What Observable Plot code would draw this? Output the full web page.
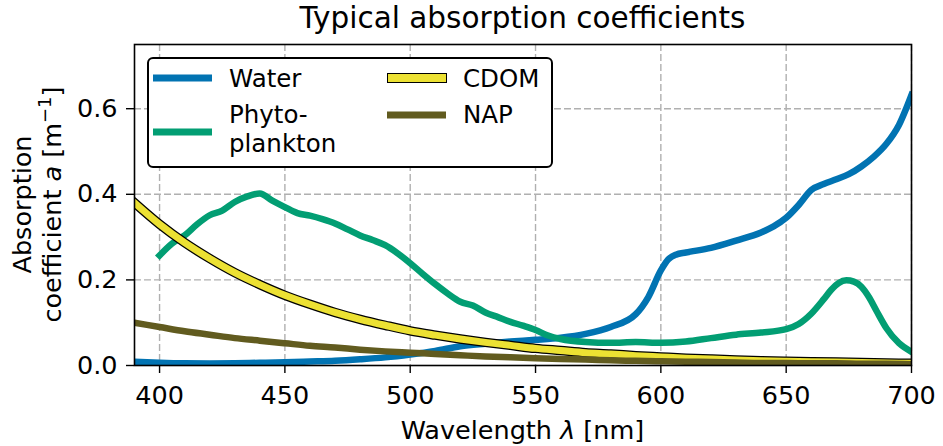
<!DOCTYPE html>
<html><head><meta charset="utf-8">
<script src="https://cdn.jsdelivr.net/npm/d3@7"></script>
<script src="https://cdn.jsdelivr.net/npm/@observablehq/plot@0.6"></script>
<style>body{margin:0;background:#fff} #chart{width:943px;height:446px}</style>
</head><body><div id="chart"></div>
<script>
// ---- data ----
const titleText = "Typical absorption coefficients";
const xTicks = [400, 450, 500, 550, 600, 650, 700];
const yTicks = [0, 0.2, 0.4, 0.6];
const seriesNames = ["Water", "Phyto-\nplankton", "CDOM", "NAP"];
const seriesColors = ["#0173B2", "#029E73", "#ECE133", "#615B1F"];

const waterNm = [390,400,410,420,430,440,450,460,470,480,490,500,510,520,530,540,550,560,570,580,590,595,600,603,606,610,620,630,640,645,650,655,660,665,670,675,680,685,690,695,700];
const waterA  = [0.009,0.0066,0.005,0.0045,0.005,0.0064,0.0075,0.0092,0.011,0.0145,0.019,0.0257,0.034,0.045,0.051,0.056,0.060,0.065,0.074,0.090,0.120,0.160,0.222,0.248,0.259,0.264,0.275,0.292,0.311,0.325,0.345,0.375,0.410,0.424,0.435,0.447,0.465,0.488,0.518,0.562,0.632];

const phytoNm = [400,405,410,415,420,425,430,435,440,445,450,455,460,465,470,475,480,485,490,495,500,505,510,515,520,525,530,535,540,545,550,555,560,570,580,590,600,610,620,630,640,650,655,660,665,668,671,674,677,680,683,686,690,695,700];
const phytoA  = [0.257,0.285,0.304,0.330,0.351,0.362,0.382,0.395,0.402,0.385,0.370,0.356,0.350,0.342,0.332,0.318,0.304,0.293,0.281,0.262,0.239,0.214,0.190,0.168,0.149,0.140,0.124,0.113,0.102,0.093,0.083,0.070,0.062,0.055,0.053,0.055,0.053,0.056,0.064,0.072,0.077,0.085,0.097,0.121,0.155,0.177,0.193,0.199,0.196,0.184,0.160,0.128,0.087,0.052,0.032];

const expNm = [390,400,410,420,430,440,450,460,470,480,490,500,510,520,530,540,550,560,570,580,590,600,610,620,630,640,650,660,670,680,690,700];
const cdomA = [0.380,0.330,0.287,0.250,0.217,0.189,0.164,0.143,0.124,0.108,0.094,0.081,0.071,0.062,0.054,0.047,0.040,0.035,0.030,0.027,0.023,0.020,0.017,0.015,0.013,0.011,0.010,0.009,0.008,0.007,0.006,0.005];
const napA  = [0.100,0.090,0.080,0.072,0.064,0.058,0.052,0.046,0.042,0.037,0.033,0.030,0.027,0.024,0.021,0.019,0.017,0.015,0.014,0.012,0.011,0.010,0.009,0.008,0.007,0.006,0.006,0.005,0.005,0.004,0.004,0.003];

const water = waterNm.map((nm, i) => ({nm, a: waterA[i]}));
const phyto = phytoNm.map((nm, i) => ({nm, a: phytoA[i]}));
const cdom = expNm.map((nm, i) => ({nm, a: cdomA[i]}));
const nap = expNm.map((nm, i) => ({nm, a: napA[i]}));

const gridStyle = {stroke: "#b0b0b0", strokeOpacity: 1, strokeWidth: 1.4, strokeDasharray: "7,3"};
const lineStyle = {x: "nm", y: "a", clip: true, curve: "monotone-x", strokeLinecap: "square", strokeLinejoin: "round"};

const chart = Plot.plot({
  width: 943, height: 446,
  marginTop: 44, marginBottom: 81, marginLeft: 134, marginRight: 32,
  style: {fontFamily: "DejaVu Sans", fontSize: "25.5px", color: "black", background: "white"},
  x: {domain: [390, 700], ticks: xTicks, tickSize: 8, tickPadding: 12, label: null},
  y: {domain: [0, 0.75], ticks: yTicks, tickFormat: d3.format(".1f"), tickSize: 8, tickPadding: 9, label: null},
  marks: [
    Plot.gridX(xTicks, gridStyle),
    Plot.gridY(yTicks.filter(d => d > 0), gridStyle),
    Plot.lineY(water, {...lineStyle, stroke: seriesColors[0], strokeWidth: 6.5}),
    Plot.lineY(phyto, {...lineStyle, stroke: seriesColors[1], strokeWidth: 6.5}),
    Plot.lineY(cdom, {...lineStyle, stroke: "black", strokeWidth: 9.5}),
    Plot.lineY(cdom, {...lineStyle, stroke: seriesColors[2], strokeWidth: 7}),
    Plot.lineY(nap, {...lineStyle, stroke: seriesColors[3], strokeWidth: 6.5}),
    Plot.frame({stroke: "black", strokeWidth: 1.6})
  ]
});
document.getElementById("chart").appendChild(chart);

const svg = d3.select(chart);
svg.selectAll("g[aria-label$='tick'] path").attr("stroke-width", 1.4);

// title
svg.append("text").attr("x", 522.5).attr("y", 28).attr("text-anchor", "middle")
  .attr("font-size", 29.5).attr("fill", "black").text(titleText);

// x label
const xl = svg.append("text").attr("x", 522.5).attr("y", 439).attr("text-anchor", "middle")
  .attr("font-size", 25.5).attr("fill", "black");
xl.append("tspan").text("Wavelength ");
xl.append("tspan").attr("font-style", "italic").text("λ");
xl.append("tspan").text(" [nm]");

// y label (two lines)
svg.append("text").attr("transform", "translate(31,204.5) rotate(-90)").attr("text-anchor", "middle")
  .attr("font-size", 25.5).attr("fill", "black").text("Absorption");
const yl = svg.append("text").attr("transform", "translate(61,204.5) rotate(-90)").attr("text-anchor", "middle")
  .attr("font-size", 25.5).attr("fill", "black");
yl.append("tspan").text("coefficient ");
yl.append("tspan").attr("font-style", "italic").text("a");
yl.append("tspan").text(" [m");
yl.append("tspan").attr("font-size", 18).attr("dy", -10).text("−1");
yl.append("tspan").attr("dy", 10).text("]");

// legend
const lg = svg.append("g").attr("font-size", 24.5).attr("fill", "black").attr("text-anchor", "start");
lg.append("rect").attr("x", 148).attr("y", 58).attr("width", 404).attr("height", 109)
  .attr("rx", 5).attr("fill", "white").attr("stroke", "black").attr("stroke-width", 2);
const legendLayout = [
  {sx: 153, sy: 78, tx: 229, ty: 87},
  {sx: 153, sy: 132, tx: 229, ty: 123},
  {sx: 387, sy: 78, tx: 463, ty: 87},
  {sx: 387, sy: 115, tx: 463, ty: 123}
];
seriesNames.forEach((name, i) => {
  const L = legendLayout[i];
  if (i === 2) {
    lg.append("line").attr("x1", L.sx).attr("x2", L.sx + 60).attr("y1", L.sy).attr("y2", L.sy)
      .attr("stroke", "black").attr("stroke-width", 10);
    lg.append("line").attr("x1", L.sx + 1).attr("x2", L.sx + 59).attr("y1", L.sy).attr("y2", L.sy)
      .attr("stroke", seriesColors[i]).attr("stroke-width", 8);
  } else {
    lg.append("line").attr("x1", L.sx).attr("x2", L.sx + 59).attr("y1", L.sy).attr("y2", L.sy)
      .attr("stroke", seriesColors[i]).attr("stroke-width", 7);
  }
  name.split("\n").forEach((line, j) => {
    lg.append("text").attr("x", L.tx).attr("y", L.ty + j * 28.5).text(line);
  });
});
</script>
</body></html>
